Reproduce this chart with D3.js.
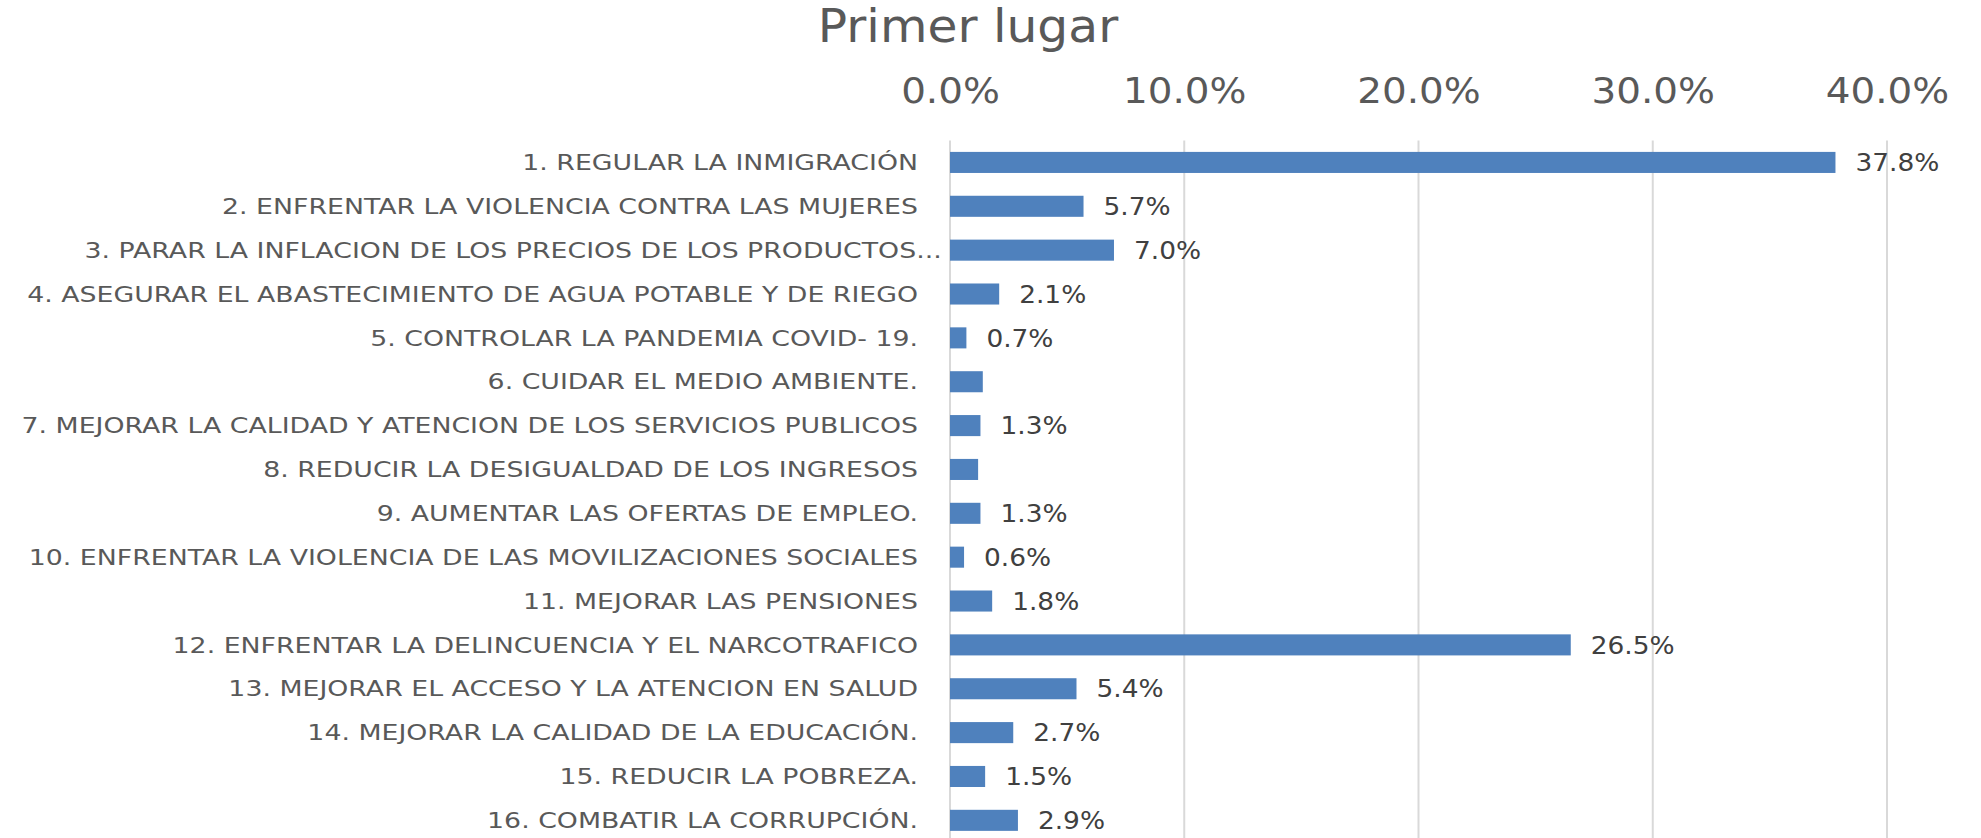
<!DOCTYPE html>
<html>
<head>
<meta charset="utf-8">
<script src="https://cdn.jsdelivr.net/npm/d3@7"></script>
<style>
  html, body { margin: 0; padding: 0; background: #fff; }
  svg { display: block; font-family: "DejaVu Sans", sans-serif; }
</style>
</head>
<body>
<svg id="chart" width="1981" height="838"></svg>
<script>
// ---- data ----
const title = "Primer lugar";
const categories = [
  "1. REGULAR LA INMIGRACIÓN",
  "2. ENFRENTAR LA VIOLENCIA CONTRA LAS MUJERES",
  "3.  PARAR LA INFLACION DE LOS PRECIOS DE LOS PRODUCTOS...",
  "4. ASEGURAR EL ABASTECIMIENTO DE AGUA POTABLE Y DE RIEGO",
  "5. CONTROLAR LA PANDEMIA COVID- 19.",
  "6. CUIDAR EL MEDIO AMBIENTE.",
  "7. MEJORAR LA CALIDAD Y ATENCION DE LOS SERVICIOS PUBLICOS",
  "8. REDUCIR LA DESIGUALDAD DE LOS INGRESOS",
  "9. AUMENTAR LAS OFERTAS DE EMPLEO.",
  "10. ENFRENTAR LA VIOLENCIA DE LAS MOVILIZACIONES SOCIALES",
  "11. MEJORAR LAS PENSIONES",
  "12. ENFRENTAR LA DELINCUENCIA Y EL NARCOTRAFICO",
  "13. MEJORAR EL ACCESO Y LA ATENCION EN SALUD",
  "14. MEJORAR LA CALIDAD DE LA EDUCACIÓN.",
  "15. REDUCIR LA POBREZA.",
  "16. COMBATIR LA CORRUPCIÓN."
];
const values = [0.378, 0.057, 0.070, 0.021, 0.007, 0.014, 0.013, 0.012,
                0.013, 0.006, 0.018, 0.265, 0.054, 0.027, 0.015, 0.029];
// bars 6 and 8 have no data label in the original
const showLabel = [true, true, true, true, true, false, true, false,
                   true, true, true, true, true, true, true, true];
const ticks = [0, 0.1, 0.2, 0.3, 0.4];

// ---- layout ----
const svg = d3.select("#chart");
const W = 1981, H = 838;
const x0 = 950, x1 = 1887;      // plot area left/right
const plotTop = 140.5, step = 43.86;

const x = d3.scaleLinear().domain([0, 0.4]).range([x0, x1]);
const y = d3.scaleBand()
  .domain(categories)
  .range([plotTop, plotTop + step * categories.length])
  .paddingInner(0.52).paddingOuter(0.26);

const fmt = d3.format(".1%");
const rows = categories.map((c, i) => ({ cat: c, v: values[i], show: showLabel[i] }));

// title (source font is a bit wider than DejaVu, so stretch text horizontally)
svg.append("text")
  .attr("transform", "translate(968,42) scale(1.06,1)")
  .attr("text-anchor", "middle")
  .attr("font-size", 46).attr("fill", "#595959")
  .text(title);

// gridlines
svg.append("g").selectAll("line").data(ticks).enter().append("line")
  .attr("x1", d => x(d)).attr("x2", d => x(d))
  .attr("y1", plotTop).attr("y2", H)
  .attr("stroke", "#d9d9d9").attr("stroke-width", 2);

// top axis tick labels
const axis = svg.append("g")
  .attr("transform", `translate(0,103)`)
  .call(d3.axisTop(x).tickValues(ticks).tickFormat(fmt).tickSize(0).tickPadding(0));
axis.select(".domain").remove();
axis.selectAll("text")
  .attr("font-family", "DejaVu Sans, sans-serif")
  .attr("font-size", 36).attr("fill", "#595959")
  .attr("dy", 0)
  .attr("transform", "scale(1.08,1)");

// category labels (truncated "..." label overflows the label column a bit, like Excel)
const yAxis = svg.append("g")
  .attr("transform", `translate(${x0 - 32},0)`)
  .call(d3.axisLeft(y).tickSize(0).tickPadding(0));
yAxis.select(".domain").remove();
yAxis.selectAll("text")
  .attr("font-family", "DejaVu Sans, sans-serif")
  .attr("font-size", 21.5).attr("fill", "#595959")
  .attr("dy", "0.36em")
  .attr("dx", d => d.endsWith("...") ? 19 : 0)
  .attr("transform", "scale(1.245,1)");

// bars
svg.append("g").selectAll("rect").data(rows).enter().append("rect")
  .attr("x", x(0))
  .attr("y", d => y(d.cat))
  .attr("width", d => x(d.v) - x(0))
  .attr("height", y.bandwidth())
  .attr("fill", "#4f81bd");

// data labels
svg.append("g").selectAll("text").data(rows.filter(d => d.show)).enter().append("text")
  .attr("transform", d => `translate(${x(d.v) + 20},${y(d.cat) + y.bandwidth() / 2}) scale(1.1,1)`)
  .attr("dy", "0.36em")
  .attr("font-size", 24).attr("fill", "#404040")
  .text(d => fmt(d.v));
</script>
</body>
</html>
